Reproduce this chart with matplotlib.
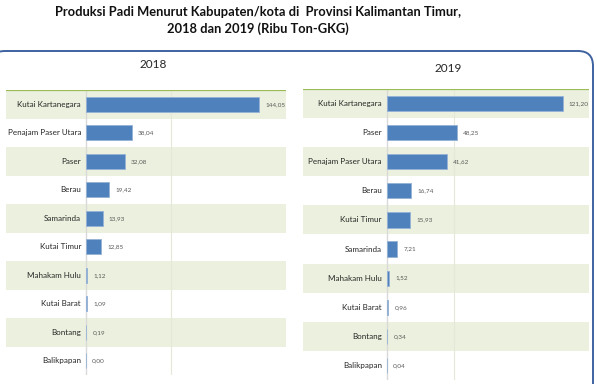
import matplotlib
matplotlib.use("Agg")
import matplotlib.pyplot as plt
from matplotlib.patches import FancyBboxPatch

plt.rcParams['font.family'] = ['Lato', 'DejaVu Sans']

# data (Ribu Ton-GKG)
regions_2018 = ["Kutai Kartanegara", "Penajam Paser Utara", "Paser", "Berau", "Samarinda",
                "Kutai Timur", "Mahakam Hulu", "Kutai Barat", "Bontang", "Balikpapan"]
values_2018 = [144.05, 38.04, 32.08, 19.42, 13.93, 12.85, 1.12, 1.09, 0.19, 0.00]

regions_2019 = ["Kutai Kartanegara", "Paser", "Penajam Paser Utara", "Berau", "Kutai Timur",
                "Samarinda", "Mahakam Hulu", "Kutai Barat", "Bontang", "Balikpapan"]
values_2019 = [121.20, 48.25, 41.62, 16.74, 15.93, 7.21, 1.52, 0.96, 0.34, 0.04]

bar_color = "#4f81bd"
band_color = "#ebf1de"
top_line = "#9bbb59"


def fmt(v):
    return f"{v:.2f}".replace(".", ",")


def draw_panel(ax, names, vals, xmin, xmax, grid_x):
    n = len(names)
    ys = list(range(n))
    for i in ys:
        if i % 2 == 0:
            ax.axhspan(i - 0.5, i + 0.5, color=band_color, lw=0, zorder=0)
    ax.axvline(0, color="#d9d9d9", lw=1, zorder=1)
    ax.axvline(grid_x, color="#e3e8d8", lw=0.8, zorder=1)
    ax.barh(ys, vals, height=0.52, color=bar_color, edgecolor="#95b3d7", lw=0.6, zorder=2)
    for y, name, v in zip(ys, names, vals):
        ax.annotate(name, (0, y), xytext=(-3.5, 0), textcoords="offset points",
                    ha="right", va="center", fontsize=5.8, color="#262626")
        ax.annotate(fmt(v), (v, y), xytext=(4.5, 0), textcoords="offset points",
                    ha="left", va="center", fontsize=4.6, color="#595959")
    ax.set_xlim(xmin, xmax)
    ax.set_ylim(n - 0.5, -0.5)
    ax.set_xticks([])
    ax.set_yticks([])
    for s in ax.spines.values():
        s.set_visible(False)
    ax.axhline(-0.5, color=top_line, lw=1.6, zorder=3)


fig = plt.figure(figsize=(5.97, 3.84), dpi=100)

fig.text(0.432, 0.985, "Produksi Padi Menurut Kabupaten/kota di  Provinsi Kalimantan Timur,\n2018 dan 2019 (Ribu Ton-GKG)",
         ha="center", va="top", fontsize=9.3, fontweight="bold", color="#111111", linespacing=1.4)

# rounded frame line
frame = FancyBboxPatch((-0.1, -1.0), 6.03, 4.33, boxstyle="round,pad=0,rounding_size=0.15",
                       transform=fig.dpi_scale_trans, fill=False, edgecolor="#3f62a0", lw=1.4)
fig.patches.append(frame)

ax1 = fig.add_axes([6 / 597, 1 - 375 / 384, 280 / 597, 285 / 384])
draw_panel(ax1, regions_2018, values_2018, -66.5, 166.3, 70.7)
fig.text(153 / 597, 1 - 65 / 384, "2018", ha="center", va="center", fontsize=8.5, color="#262626")

ax2 = fig.add_axes([303 / 597, 1 - 380 / 384, 286 / 597, 291 / 384])
draw_panel(ax2, regions_2019, values_2019, -57.6, 139.3, 46.5)
fig.text(448 / 597, 1 - 68 / 384, "2019", ha="center", va="center", fontsize=8.5, color="#262626")

fig.savefig("out.png", dpi=100)
